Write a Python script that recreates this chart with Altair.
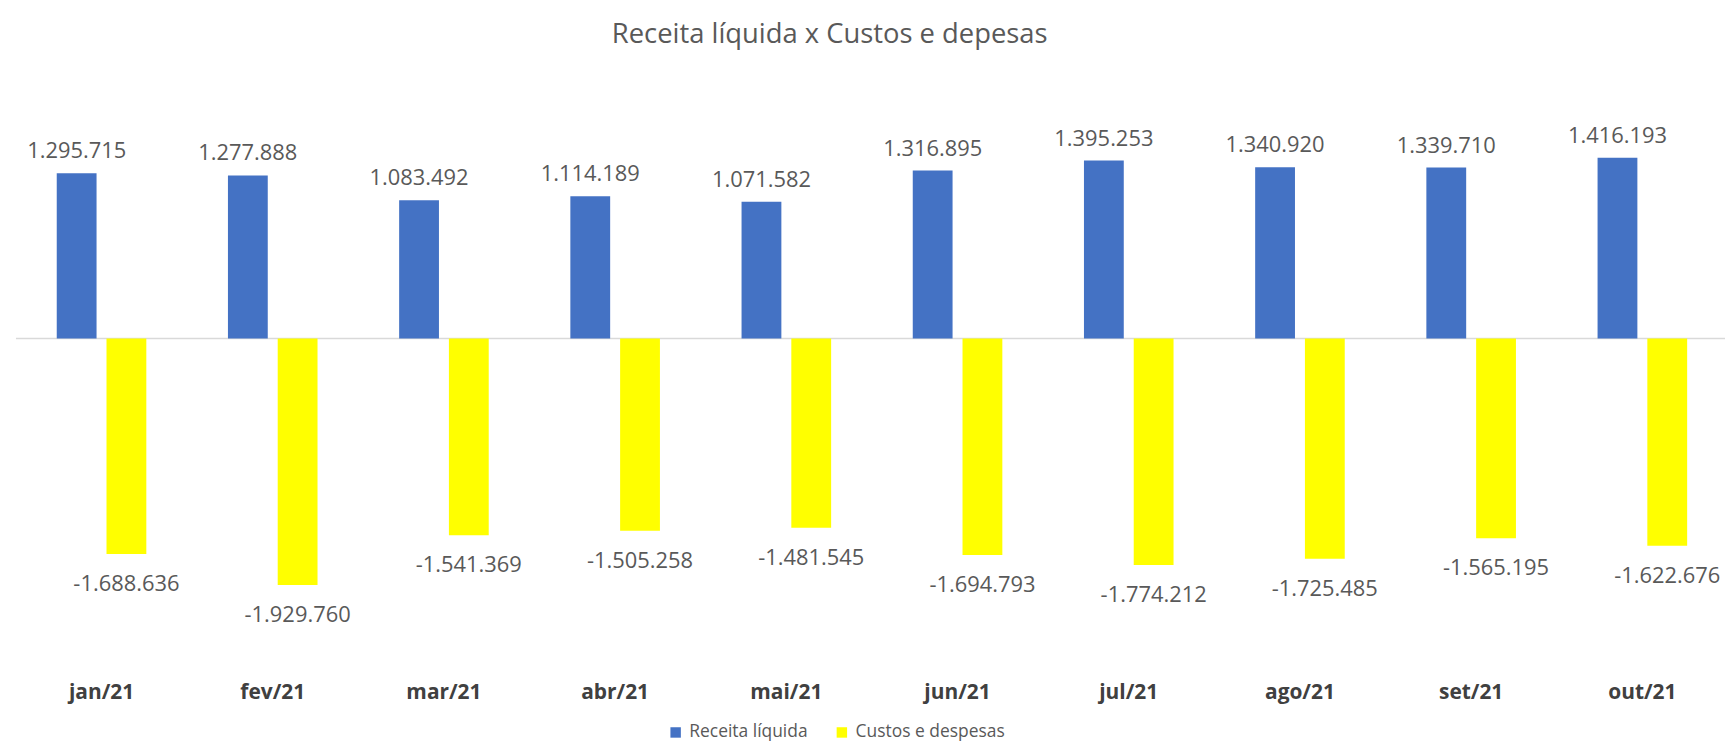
import altair as alt
import pandas as pd

months = ["jan/21", "fev/21", "mar/21", "abr/21", "mai/21",
          "jun/21", "jul/21", "ago/21", "set/21", "out/21"]
receita = [1295715, 1277888, 1083492, 1114189, 1071582,
           1316895, 1395253, 1340920, 1339710, 1416193]
custos = [-1688636, -1929760, -1541369, -1505258, -1481545,
          -1694793, -1774212, -1725485, -1565195, -1622676]
series = ["Receita líquida", "Custos e despesas"]
colors = ["#4472C4", "#FFFF00"]


def fmt(v):
    return f"{v:,}".replace(",", ".")


rows = []
for m, r, c in zip(months, receita, custos):
    rows.append({"month": m, "series": series[0], "value": r, "label": fmt(r)})
    rows.append({"month": m, "series": series[1], "value": c, "label": fmt(c)})
df = pd.DataFrame(rows)
zero_df = pd.DataFrame({"zero": [0]})

FONT = "Open Sans"

x_enc = alt.X(
    "month:N", sort=months, title=None,
    scale=alt.Scale(paddingInner=0.477, paddingOuter=0.2065, align=0.577),
    axis=alt.Axis(labelAngle=0, domain=False, ticks=False, labelPadding=35,
                  labelBaseline="middle", labelFont=FONT, labelFontSize=21,
                  labelFontWeight="bold", labelColor="#404040"),
)
y_enc = alt.Y("value:Q", scale=alt.Scale(domain=[-2500000, 1500000], nice=False, zero=True), axis=None)
color_enc = alt.Color("series:N", sort=series,
                      scale=alt.Scale(domain=series, range=colors),
                      legend=alt.Legend(title=None, orient="none", direction="horizontal",
                                        legendX=654, legendY=579, padding=0,
                                        symbolType="square", symbolSize=110,
                                        symbolStrokeWidth=0, labelFont=FONT,
                                        labelFontSize=17.5, labelColor="#595959",
                                        columnPadding=25, labelOffset=5))

rule = alt.Chart(zero_df).mark_rule(color="#d9d9d9", strokeWidth=1.5).encode(
    y=alt.Y("zero:Q", scale=alt.Scale(domain=[-2500000, 1500000], nice=False), axis=None),
    x=alt.value(0), x2=alt.value(1720),
)

pos = alt.Chart(df).transform_filter(alt.datum.series == series[0])
neg = alt.Chart(df).transform_filter(alt.datum.series == series[1])

bars_pos = pos.mark_bar(width=40, xOffset=-25).encode(x=x_enc, y=y_enc, color=color_enc)
bars_neg = neg.mark_bar(width=40, xOffset=25).encode(x=x_enc, y=y_enc, color=color_enc)

text_pos = pos.mark_text(
    baseline="alphabetic", dx=-25, dy=-15, font=FONT, fontSize=22, color="#595959"
).encode(x=x_enc, y=y_enc, text="label:N")

text_neg = neg.mark_text(
    baseline="alphabetic", dx=25, dy=37, font=FONT, fontSize=22, color="#595959"
).encode(x=x_enc, y=y_enc, text="label:N")

chart = alt.layer(rule, bars_pos, bars_neg, text_pos, text_neg).properties(
    width=1709, height=513,
    title=alt.TitleParams("Receita líquida x Custos e depesas", font=FONT, fontSize=27.5,
                          fontWeight="normal", color="#595959", anchor="middle",
                          dx=-37, dy=-73),
    autosize=alt.AutoSizeParams(type="none"),
    padding={"left": 8, "top": 138, "right": 8, "bottom": 84},
    background="white",
).configure_view(stroke=None)

chart.save("out.html", embed_options={"renderer": "svg", "actions": False})
